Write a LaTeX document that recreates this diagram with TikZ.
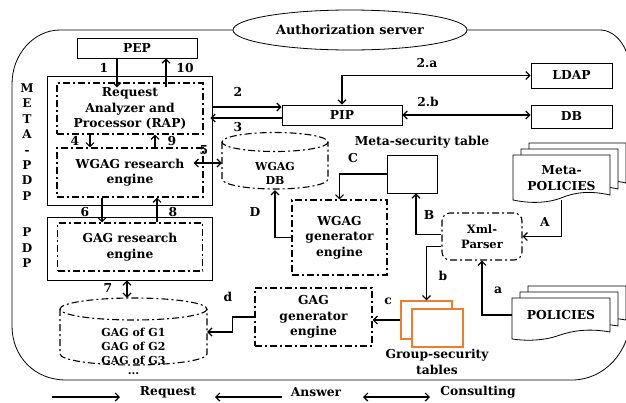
\documentclass[tikz,border=0pt]{standalone}
\usepackage{fontspec}
\setmainfont{DejaVu Serif}
\usepackage{xcolor}
\usetikzlibrary{calc,positioning,shapes.geometric,arrows.meta}

\definecolor{tableorange}{RGB}{237,125,49}

\tikzset{
  >={Straight Barb[length=4pt,width=8pt]},
  txt/.style={font=\bfseries\fontsize{12.3}{15.5}\selectfont, align=center, inner sep=0pt},
  smalltxt/.style={font=\bfseries\fontsize{11}{14}\selectfont, align=center, inner sep=0pt},
  box/.style={draw, thick, txt},
  dashline/.style={line width=1.1pt, dash pattern=on 7pt off 3pt on 2pt off 3pt},
  dashbox/.style={draw, dashline, txt},
  arr/.style={->, line width=1.2pt},
}

\begin{document}
\begin{tikzpicture}[x=1pt,y=-1pt]
  \useasboundingbox (0,0) rectangle (626,402);

  % outer frame of the server
  \draw[thick] (60,30) -- (600,30) .. controls (616,30) and (630,48) .. (630,72) -- (630,318)
     .. controls (630,352) and (604,380) .. (572,380) -- (66,380)
     .. controls (34,380) and (12,356) .. (12,326) -- (12,84) .. controls (12,54) and (34,30) .. (60,30);
  \node[ellipse, draw, thick, fill=white, minimum width=234, minimum height=40, txt, font=\bfseries\fontsize{12.8}{15}\selectfont] (auth) at (350,30) {Authorization server};

  % PDP side
  \node[box, minimum width=120, minimum height=20] (pep) at (137,48) {PEP};
  \node[draw, thick, minimum width=165, minimum height=129] (metabox) at (129.5,140.5) {};
  \node[draw, thick, minimum width=165, minimum height=63] (pdpbox) at (129.5,248.5) {};
  \node[dashbox, minimum width=146, minimum height=51] (rap) at (130,108.5) {Request\\Analyzer and\\Processor (RAP)};
  \node[dashbox, minimum width=146, minimum height=49] (wgagre) at (130,172.5) {WGAG research\\engine};
  \node[dashbox, minimum width=145, minimum height=48] (gagre) at (130,247) {GAG research\\engine};
  \node[txt, font=\bfseries\fontsize{12}{15.4}\selectfont] (metalbl) at (27,142) {M\\E\\T\\A\\-\\P\\D\\P};
  \node[txt, font=\bfseries\fontsize{12}{15.4}\selectfont] (pdplbl) at (27,248) {P\\D\\P};

  % WGAG DB cylinder
  \node[minimum width=106, minimum height=57] (wdb) at (275,161.5) {};
  \draw[dashline] (275,142) ellipse [x radius=53, y radius=9.5];
  \draw[dashline] (222,142) -- (222,179) arc[start angle=180, end angle=0, x radius=53, y radius=10] -- (328,142);
  \node[smalltxt] (wdbtxt) at (275,173) {WGAG\\DB};

  % GAG DB cylinder
  \node[minimum width=147, minimum height=67] (gdb) at (133.5,331.5) {};
  \draw[dashline] (133.5,309) ellipse [x radius=73.5, y radius=11];
  \draw[dashline] (60,309) -- (60,354) arc[start angle=180, end angle=0, x radius=73.5, y radius=11] -- (207,309);
  \node[smalltxt] (gdbtxt) at (133.5,346) {GAG of G1\\GAG of G2\\GAG of G3};
  \node[smalltxt] (gdbdots) at (133.5,374) {...};

  % PIP side
  \node[box, minimum width=120, minimum height=20] (pip) at (342,115) {PIP};
  \node[box, minimum width=81, minimum height=25] (ldap) at (571.5,75.5) {LDAP};
  \node[box, minimum width=81, minimum height=23] (db) at (571.5,116.5) {DB};

  % generators and parser
  \node[txt] (metalbl2) at (422,142) {Meta-security table};
  \node[box, minimum width=50, minimum height=38] (metatab) at (412,174) {};
  \node[dashbox, minimum width=95, minimum height=75] (wgaggen) at (339.5,237.5) {WGAG\\generator\\engine};
  \node[dashbox, minimum width=117, minimum height=58] (gaggen) at (313.5,317) {GAG\\generator\\engine};
  \node[dashbox, rounded corners=8, minimum width=80, minimum height=47, font=\bfseries\fontsize{11.5}{15}\selectfont] (xml) at (482,236.5) {Xml-\\Parser};

  % group-security tables
  \node[draw=tableorange, line width=1.2pt, fill=white, minimum width=51, minimum height=38] (gstback) at (426.5,320) {};
  \node[draw=tableorange, line width=1.2pt, fill=white, minimum width=51, minimum height=38] (gstfront) at (437.5,328) {};
  \node[txt] (gstlbl) at (437,362) {Group-security\\tables};

  % policy documents
  \foreach \dx/\dy in {16/-12, 8/-6, 0/0} {
    \begin{scope}[shift={(513+\dx,155+\dy)}]
      \draw[thick, fill=white] (0,0) -- (97,0) -- (97,40) .. controls (75,35) and (60,38) .. (48,43) .. controls (32,49) and (14,48) .. (0,45) -- cycle;
    \end{scope}
  }
  \node[txt, minimum width=97, minimum height=44] (metapol) at (561.5,178) {Meta-\\POLICIES};
  \foreach \dx/\dy in {16/-12, 8/-6, 0/0} {
    \begin{scope}[shift={(512+\dx,298+\dy)}]
      \draw[thick, fill=white] (0,0) -- (98,0) -- (98,34) .. controls (76,30) and (60,33) .. (48,37) .. controls (32,43) and (14,43) .. (0,41) -- cycle;
    \end{scope}
  }
  \node[txt, minimum width=98, minimum height=34] (pol) at (561,315) {POLICIES};

  % connectors
  \draw[arr] ([xshift=-20]pep.south) -- ([xshift=-13,yshift=-5]rap.north);
  \draw[arr] ([xshift=36,yshift=-5]rap.north) -- ([xshift=29]pep.south);
  \draw[arr] ([xshift=-40]rap.south) -- ([xshift=-40]wgagre.north);
  \draw[arr] ([xshift=25]wgagre.north) -- ([xshift=25]rap.south);
  \draw[arr, <->] ([xshift=-10,yshift=9.5]wgagre.east) -- ([yshift=-1.5]wdb.west);
  \draw[arr] ([xshift=-28]wgagre.south) -- ([xshift=-28]gagre.north);
  \draw[arr] ([xshift=27]gagre.north) -- ([xshift=27]wgagre.south);
  \draw[arr, <->] ([xshift=-2.5]pdpbox.south) -- ([xshift=-6.5]gdb.north);
  \draw[arr] ([yshift=33.5]metabox.east) -- ([yshift=8]pip.west);
  \draw[arr] ([yshift=-3]pip.west) -- ([xshift=-2,yshift=22.5]metabox.east);
  \draw[arr, <->] (pip.north) |- (ldap.west);
  \draw[arr, <->] (pip.east) -- (pip.east -| db.west);
  \draw[arr] (metatab.west) -| (wgaggen.north);
  \draw[arr] (wgaggen.west) -| (wdb.south);
  \draw[arr] ([yshift=2]xml.west) -| ([xshift=4]metatab.south);
  \draw[arr] ([yshift=-10]xml.west) -| (gstback.north);
  \draw[arr] (metapol.south) |- (xml.east);
  \draw[arr] (pol.west) -| (xml.south);
  \draw[arr] (gstback.west) -- (gstback.west -| gaggen.east);
  \draw[arr] (gaggen.west) -- ++(-22,0) |- ([yshift=-0.5]gdb.east);

  % connector labels
  \node[txt] (l1) at (104,68) {1};
  \node[txt] (l10) at (185,68) {10};
  \node[txt] (l2) at (238,92) {2};
  \node[txt] (l3) at (238,127) {3};
  \node[txt] (l4) at (75,141) {4};
  \node[txt] (l9) at (172,141) {9};
  \node[txt] (l5) at (204,150) {5};
  \node[txt] (l6) at (85,212) {6};
  \node[txt] (l8) at (173,212) {8};
  \node[txt] (l7) at (108,288) {7};
  \node[txt] (l2a) at (427,63) {2.a};
  \node[txt] (l2b) at (428,102) {2.b};
  \node[txt] (lC) at (353,158) {C};
  \node[txt] (lD) at (255,212) {D};
  \node[txt] (lB) at (429,215) {B};
  \node[txt] (lb) at (443,276) {b};
  \node[txt] (lA) at (545,222) {A};
  \node[txt] (la) at (498,290) {a};
  \node[txt] (lc) at (388,301) {c};
  \node[txt] (ld) at (228,297) {d};

  % legend
  \coordinate (reqa) at (52,397);
  \coordinate (ansa) at (282,397);
  \coordinate (cona) at (363,397);
  \node[txt] (reqlbl) at (168,392) {Request};
  \node[txt] (anslbl) at (316,392) {Answer};
  \node[txt] (conlbl) at (478,392) {Consulting};
  \draw[arr] (reqa) -- ++(68,0);
  \draw[arr] (ansa) -- ++(-67,0);
  \draw[arr, <->] (cona) -- ++(67,0);
\end{tikzpicture}
\end{document}
